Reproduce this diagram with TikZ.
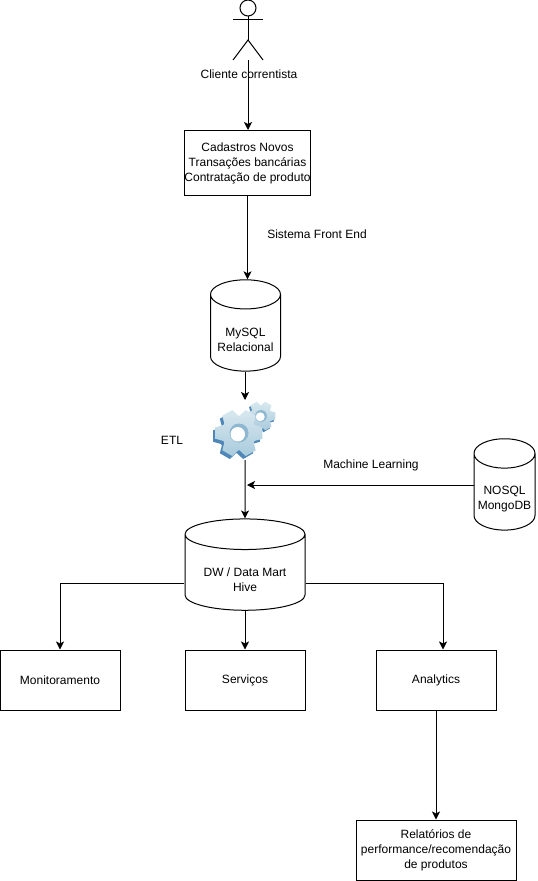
\documentclass[tikz,border=0pt]{standalone}
\usepackage{fontspec}
\setmainfont{Liberation Sans}
\usetikzlibrary{shapes.geometric,arrows.meta}
\definecolor{gearface}{HTML}{A9CBDC}
\definecolor{gearlight}{HTML}{D8E8EF}
\definecolor{geardark}{HTML}{4F88B8}
\newcommand{\contorno}{(-27:0.7)
  \foreach \a in {0,60,...,300}
    { -- (\a-27:0.7) -- (\a-14:0.96) -- (\a+14:0.96) -- (\a+27:0.7) } -- cycle}
\tikzset{
  texto/.style={font=\fontsize{9}{11.25}\selectfont,align=center,inner sep=0pt},
  caixa/.style={texto,draw,rectangle,minimum width=90pt,minimum height=45pt},
  banco/.style={texto,draw,cylinder,shape border rotate=90,aspect=#1},
  engrenagem/.pic={
    \path[fill=geardark,shift={(-0.1,0.12)}] \contorno;
    \path[top color=gearlight,bottom color=gearface] \contorno;
    \fill[gearface!70!geardark] (0,0) circle (0.38);
    \fill[white] (-0.05,0.05) circle (0.29);
  }
}
\begin{document}
\begin{tikzpicture}[x=0.75pt,y=-0.75pt,>={Stealth[length=6pt,width=6pt,inset=1.5pt]},line width=0.75pt]
  \useasboundingbox (0,0) rectangle (538,881);

  % ator
  \draw (248,8) circle (8);
  \draw (233,20) -- (263,20);
  \draw (248,16) -- (248,40);
  \draw (233,60) -- (248,40) -- (263,60);
  \coordinate (pes) at (248,60);
  \node[texto] (cliente) at (249,74) {Cliente correntista};

  % caixas
  \node[caixa,minimum width=93.75pt,minimum height=48.75pt] (cadastros) at (247.5,163)
    {Cadastros Novos\\Transações bancárias\\Contratação de produto};
  \node[caixa] (monitor) at (60,680) {Monitoramento};
  \node[caixa] (servicos) at (245,680) {Serviços};
  \node[caixa] (analytics) at (436,680) {Analytics};
  \node[caixa,minimum width=120pt] (relatorios) at (436,850)
    {Relatórios de\\performance/recomendação\\de produtos};

  % bancos
  \node[banco=0.52,minimum width=52.5pt,minimum height=68.5pt] (mysql) at (245.5,333) {~\\[5.5pt]MySQL\\Relacional};
  \node[banco=0.55,minimum width=45.75pt,minimum height=68.5pt] (nosql) at (504.5,492) {~\\[6pt]NOSQL\\MongoDB};
  \node[banco=0.37,minimum width=90pt,minimum height=68.5pt] (dw) at (245,572.5) {~\\[5.5pt]DW / Data Mart\\Hive};

  % engrenagens
  \pic[scale=15.5] at (261,416) {engrenagem};
  \pic[scale=25] at (239,433) {engrenagem};
  \coordinate (etltopo) at (245,400);
  \coordinate (etlbase) at (245,460);
  \coordinate (etllinha) at (247,485);
  \node[texto] (etl) at (172,440) {ETL};

  % rotulos
  \node[texto] (frontend) at (317,234) {Sistema Front End};
  \node[texto] (ml) at (371,465) {Machine Learning};

  % setas
  \draw[->] (pes) -- (pes |- cadastros.north);
  \draw[->] (cadastros.south) -- (cadastros.south |- mysql.north);
  \draw[->] (mysql.south -| etltopo) -- (etltopo);
  \draw[->] (etlbase) -- (dw.north);
  \draw[->] (nosql.west |- etllinha) -- (etllinha);
  \draw[->] (dw.west |- 0,583) -- (60,583) -- (monitor.north);
  \draw[->] (dw.south) -- (servicos.north);
  \draw[->] (dw.east |- 0,583) -- (443,583) -- (443,0 |- analytics.north);
  \draw[->] (analytics.south) -- (relatorios.north);
\end{tikzpicture}
\end{document}
